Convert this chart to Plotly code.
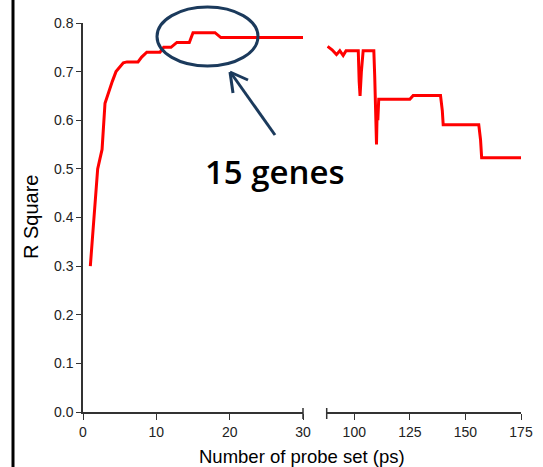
import plotly.graph_objects as go

# Left segment (x 0-30)
left_x = [1, 1.5, 2, 2.3, 2.6, 3, 3.5, 4, 4.5, 5, 5.5, 6, 7, 7.5, 8, 8.7, 9, 10, 10.5, 11, 12, 12.8, 13, 14, 14.5, 15, 16, 17, 18, 18.8, 19, 20, 25, 30]
left_y = [0.30, 0.40, 0.50, 0.52, 0.54, 0.635, 0.66, 0.68, 0.70, 0.71, 0.718, 0.72, 0.72, 0.72, 0.73, 0.74, 0.74, 0.74, 0.74, 0.75, 0.75, 0.76, 0.76, 0.76, 0.76, 0.78, 0.78, 0.78, 0.78, 0.77, 0.77, 0.77, 0.77, 0.77]

# Right segment (x ~88-175)
right_x = [88, 90, 92, 93.5, 95, 96.3, 100, 101.8, 102.2, 102.6, 103.2, 104, 106, 108.8, 109.2, 109.6, 110.0, 110.3, 110.6, 111, 115, 125, 126.5, 130, 138.8, 139.6, 140, 150, 156, 156.8, 157.3, 165, 175]
right_y = [0.752, 0.745, 0.735, 0.743, 0.733, 0.743, 0.743, 0.743, 0.68, 0.65, 0.70, 0.743, 0.743, 0.743, 0.69, 0.62, 0.55, 0.62, 0.60, 0.643, 0.643, 0.643, 0.651, 0.651, 0.651, 0.62, 0.591, 0.591, 0.591, 0.56, 0.523, 0.523, 0.523]

left_ticks = [0, 10, 20, 30]
right_ticks = [100, 125, 150, 175]
y_ticks = [0.0, 0.1, 0.2, 0.3, 0.4, 0.5, 0.6, 0.7, 0.8]

W, H = 543, 467
L, R, T, B = 83, 22, 23, 55
pw = W - L - R
ph = H - T - B

def px(x):
    return (x - L) / pw

def py(y):
    return (H - B - y) / ph

fig = go.Figure()
fig.add_trace(go.Scatter(x=left_x, y=left_y, mode="lines", line=dict(color="#ff0000", width=3),
                         xaxis="x", yaxis="y", showlegend=False, hoverinfo="skip"))
fig.add_trace(go.Scatter(x=right_x, y=right_y, mode="lines", line=dict(color="#ff0000", width=3),
                         xaxis="x2", yaxis="y", showlegend=False, hoverinfo="skip"))

axcol = "#333333"
tickfont = dict(family="Liberation Sans, Arial", size=14, color="#222222")
right_start = 87.6

fig.update_layout(
    width=W, height=H,
    margin=dict(l=L, r=R, t=T, b=B, autoexpand=False),
    paper_bgcolor="white", plot_bgcolor="white",
    xaxis=dict(domain=[0, px(303)], range=[0, 30], tickvals=left_ticks, ticks="outside", ticklen=6,
               tickcolor=axcol, showline=True, linecolor=axcol, linewidth=1.5, showgrid=False,
               zeroline=False, tickfont=tickfont, anchor="y", automargin=False),
    xaxis2=dict(domain=[px(326.7), 1], range=[right_start, 175], tickvals=right_ticks, ticks="outside",
                ticklen=6, tickcolor=axcol, showline=True, linecolor=axcol, linewidth=1.5, showgrid=False,
                zeroline=False, tickfont=tickfont, anchor="y", automargin=False),
    yaxis=dict(domain=[0, 1], range=[0, 0.8], tickvals=y_ticks, tickformat=".1f", ticks="outside",
               ticklen=5, tickcolor=axcol, showline=True, linecolor=axcol, linewidth=1.5,
               showgrid=False, zeroline=False, tickfont=tickfont, automargin=False),
)

navy = "#1b3a5c"
shapes = [
    # slide border line at left
    dict(type="line", xref="paper", yref="paper", x0=px(13), x1=px(13), y0=py(0), y1=py(H),
         line=dict(color="black", width=3)),
    # end caps on broken axis
    dict(type="line", xref="paper", yref="paper", x0=px(303), x1=px(303), y0=py(408), y1=py(419),
         line=dict(color=axcol, width=1.5)),
    dict(type="line", xref="paper", yref="paper", x0=px(326.7), x1=px(326.7), y0=py(408), y1=py(419),
         line=dict(color=axcol, width=1.5)),
    # ellipse highlight
    dict(type="circle", xref="paper", yref="paper", x0=px(157), x1=px(258), y0=py(66), y1=py(7),
         line=dict(color=navy, width=3)),
    # arrow
    dict(type="line", xref="paper", yref="paper", x0=px(275), y0=py(135), x1=px(231), y1=py(73),
         line=dict(color=navy, width=3)),
    dict(type="line", xref="paper", yref="paper", x0=px(230), y0=py(72), x1=px(248), y1=py(80),
         line=dict(color=navy, width=3)),
    dict(type="line", xref="paper", yref="paper", x0=px(230), y0=py(72), x1=px(233), y1=py(93),
         line=dict(color=navy, width=3)),
]
fig.update_layout(shapes=shapes)

fig.add_annotation(x=px(31), y=py(217), xref="paper", yref="paper", text="R Square", textangle=-90,
                   xanchor="center", yanchor="middle", showarrow=False,
                   font=dict(family="Liberation Sans, Arial", size=20, color="black"))
fig.add_annotation(x=px(301.5), y=py(456), xref="paper", yref="paper", text="Number of probe set (ps)",
                   xanchor="center", yanchor="middle", showarrow=False,
                   font=dict(family="Liberation Sans, Arial", size=18.5, color="black"))
fig.add_annotation(x=px(275), y=py(171), xref="paper", yref="paper", text="15 genes",
                   xanchor="center", yanchor="middle", showarrow=False,
                   font=dict(family="Open Sans", size=33, weight=600, color="black"))

fig.write_html("out.html", config={"displayModeBar": False})

with open("out.html", "r", encoding="utf-8") as f:
    html = f.read()
html = html.replace("<head>", "<head><style>html,body{margin:0;padding:0;overflow:hidden;}</style>", 1)
with open("out.html", "w", encoding="utf-8") as f:
    f.write(html)
